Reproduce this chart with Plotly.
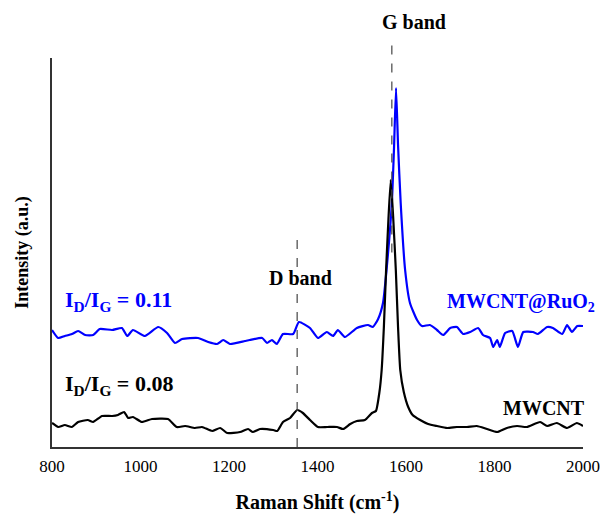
import plotly.graph_objects as go

# MWCNT (black) spectrum
mwcnt_x = [800, 814, 829, 845, 859, 881, 893, 913, 936, 949, 963, 972, 983, 1003, 1026, 1062,
           1082, 1101, 1123, 1139, 1162, 1180, 1196, 1225, 1243, 1254, 1270, 1300, 1309, 1322,
           1338, 1354, 1367, 1383, 1401, 1422, 1444, 1458, 1474, 1489, 1507, 1523, 1532, 1540,
           1545, 1550, 1555, 1560, 1565.5, 1571, 1577, 1582, 1587, 1595, 1605, 1615, 1632, 1650,
           1670, 1693, 1715, 1738, 1760, 1783, 1806, 1828, 1851, 1873, 1903, 1919, 1941, 1964,
           1986, 2000]
mwcnt_y = [24, 20, 22, 20, 25, 27, 25, 31, 31, 32, 35, 29, 30, 25, 28, 28,
           20, 21, 19, 20, 16, 19, 14, 15, 18, 15, 18, 17, 16, 25,
           29, 37, 34, 27, 20, 20, 20, 18, 23, 26, 27, 34, 36, 55,
           77, 120, 177, 225, 267, 230, 177, 120, 77, 55, 40, 32, 27, 23,
           21, 19, 20, 20, 21, 18, 15, 19, 21, 20, 25, 21, 24, 19,
           24, 21]

# MWCNT@RuO2 (blue) spectrum
ru_x = [800, 814, 829, 845, 859, 875, 893, 908, 936, 958, 970, 983, 1010, 1040, 1060, 1078,
        1094, 1130, 1153, 1173, 1187, 1202, 1236, 1247, 1275, 1286, 1297, 1308, 1322, 1345,
        1358, 1383, 1401, 1421, 1435, 1446, 1462, 1489, 1514, 1525, 1537, 1548, 1556, 1568,
        1573, 1577.5, 1582, 1588, 1598, 1609, 1625, 1636, 1654, 1670, 1684, 1700, 1715, 1729,
        1745, 1763, 1774, 1790, 1797, 1806, 1812, 1824, 1840, 1853, 1865, 1887, 1898, 1919,
        1932, 1953, 1964, 1975, 1987, 2000]
ru_y = [117, 109, 111, 113, 116, 112, 112, 118, 117, 119, 111, 117, 111, 120, 114, 104,
        108, 109, 105, 103, 107, 103, 106, 107, 109, 104, 107, 103, 113, 113,
        125, 119, 109, 115, 111, 117, 110, 119, 122, 120, 128, 144, 177, 244,
        300, 359, 302, 244, 177, 144, 127, 121, 122, 117, 112, 119, 120, 113,
        115, 119, 112, 109, 100, 107, 100, 114, 116, 100, 115, 115, 113, 120,
        119, 113, 122, 115, 121, 121]

x_ticks = [800, 1000, 1200, 1400, 1600, 1800, 2000]
d_band_x = 1354
g_band_x = 1568

SERIF = "Liberation Serif, Times New Roman, serif"

fig = go.Figure()
fig.add_trace(go.Scatter(x=ru_x, y=ru_y, mode="lines",
                         line=dict(color="#0000ff", width=2.2, shape="spline", smoothing=0.5),
                         name="MWCNT@RuO2", showlegend=False))
fig.add_trace(go.Scatter(x=mwcnt_x, y=mwcnt_y, mode="lines",
                         line=dict(color="#000000", width=2.2, shape="spline", smoothing=0.5),
                         name="MWCNT", showlegend=False))

# dashed band markers
fig.add_shape(type="line", xref="x", yref="paper", x0=d_band_x, x1=d_band_x, y0=0, y1=0.553,
              line=dict(color="#444444", width=1.2, dash="dash"))
fig.add_shape(type="line", xref="x", yref="paper", x0=g_band_x, x1=g_band_x, y0=0.50, y1=1.038,
              line=dict(color="#444444", width=1.2, dash="dash"))

fig.add_annotation(x=1617, y=1.093, xref="x", yref="paper", text="<b>G band</b>",
                   showarrow=False, font=dict(family=SERIF, size=20, color="black"),
                   yanchor="middle")
fig.add_annotation(x=1362, y=0.434, xref="x", yref="paper", text="<b>D band</b>",
                   showarrow=False, font=dict(family=SERIF, size=20, color="black"),
                   yanchor="middle")
fig.add_annotation(x=0.02, y=0.376, xref="paper", yref="paper",
                   text="<b>I<sub>D</sub>/I<sub>G</sub> = 0.11</b>",
                   showarrow=False, font=dict(family=SERIF, size=22, color="#0000ff"),
                   xanchor="left", yanchor="middle")
fig.add_annotation(x=0.02, y=0.16, xref="paper", yref="paper",
                   text="<b>I<sub>D</sub>/I<sub>G</sub> = 0.08</b>",
                   showarrow=False, font=dict(family=SERIF, size=22, color="black"),
                   xanchor="left", yanchor="middle")
fig.add_annotation(x=1.027, y=0.372, xref="paper", yref="paper",
                   text="<b>MWCNT@RuO<sub>2</sub></b>",
                   showarrow=False, font=dict(family=SERIF, size=20, color="#0000ff"),
                   xanchor="right", yanchor="middle")
fig.add_annotation(x=1.008, y=0.100, xref="paper", yref="paper",
                   text="<b>MWCNT</b>",
                   showarrow=False, font=dict(family=SERIF, size=20, color="black"),
                   xanchor="right", yanchor="middle")

fig.update_layout(
    width=603, height=519,
    margin=dict(l=52, r=20, t=58, b=72, autoexpand=False),
    paper_bgcolor="white", plot_bgcolor="white",
    font=dict(family=SERIF, color="black"),
    xaxis=dict(range=[800, 2000], tickvals=x_ticks, ticks="", showgrid=False, zeroline=False,
               showline=True, linecolor="#333333", linewidth=1.5, automargin=False,
               ticklabelstandoff=3,
               tickfont=dict(family=SERIF, size=17),
               title=dict(text="<b>Raman Shift (cm<sup>-1</sup>)</b>",
                          font=dict(family=SERIF, size=20), standoff=20)),
    yaxis=dict(range=[0, 389], showticklabels=False, ticks="", showgrid=False, zeroline=False,
               showline=True, linecolor="#333333", linewidth=1.5, automargin=False,
               title=dict(text="<b>Intensity (a.u.)</b>", font=dict(family=SERIF, size=18),
                          standoff=17)),
)

fig.write_html("out.html",
               config={"displayModeBar": False},
               post_script="document.body.style.margin='0';document.body.style.overflow='hidden';")
